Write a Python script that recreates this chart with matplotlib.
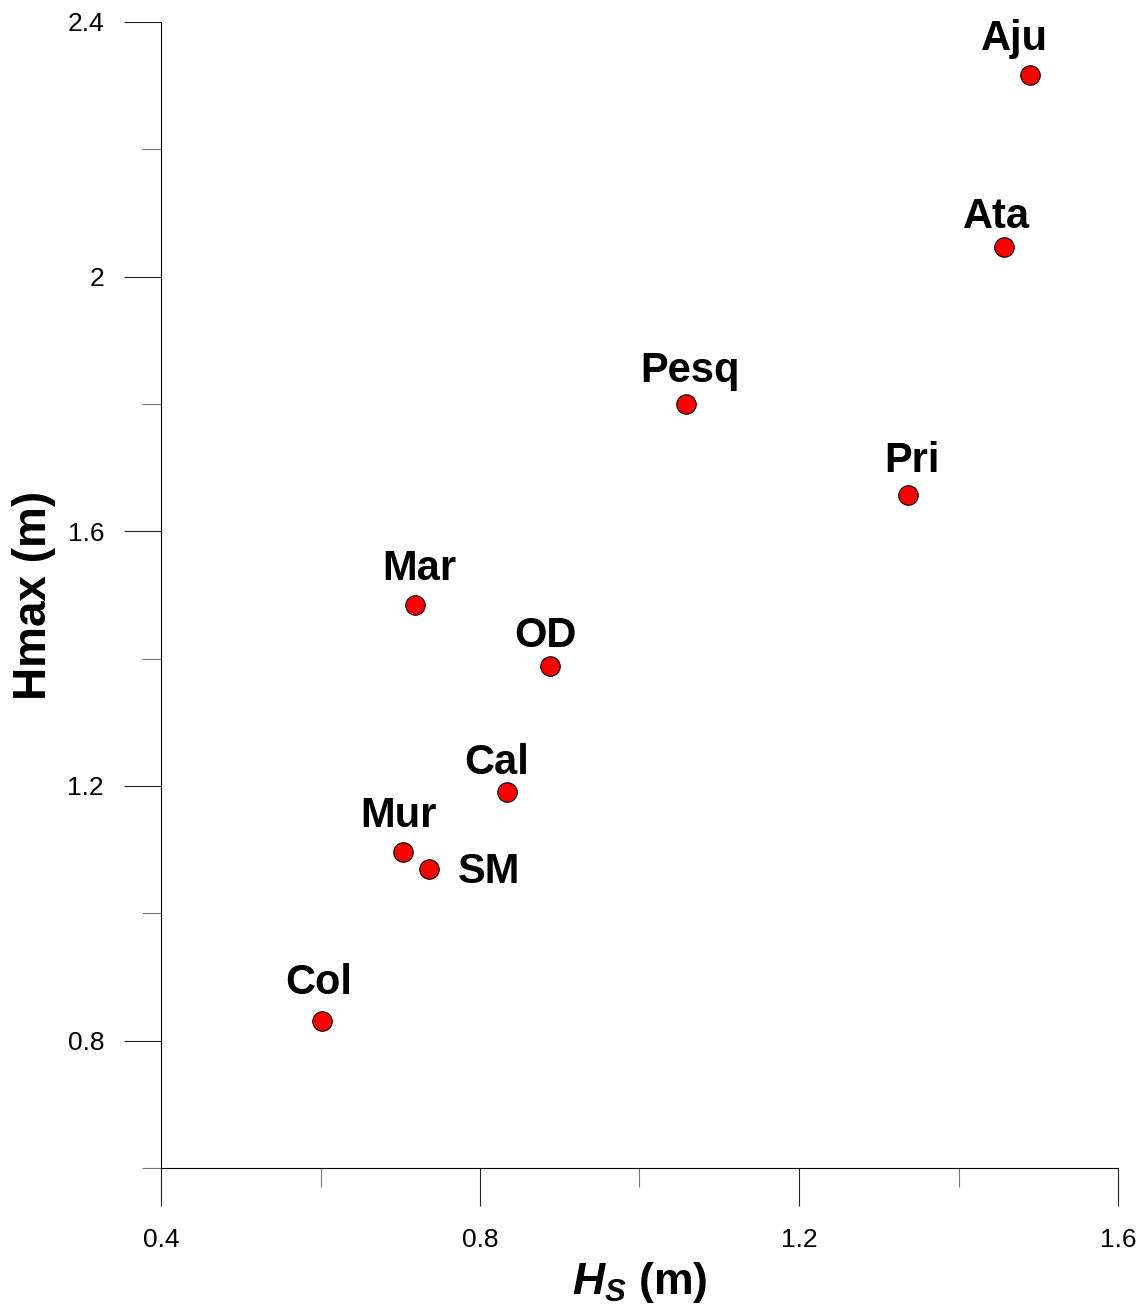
import matplotlib.pyplot as plt
from matplotlib.ticker import MultipleLocator

plt.rcParams['font.family'] = ['Liberation Sans', 'DejaVu Sans']
plt.rcParams['mathtext.fontset'] = 'custom'
plt.rcParams['mathtext.it'] = 'Liberation Sans:italic:bold'
plt.rcParams['mathtext.rm'] = 'Liberation Sans:bold'

# data
sites = ['Aju', 'Ata', 'Pesq', 'Pri', 'Mar', 'OD', 'Cal', 'Mur', 'SM', 'Col']
hs = [1.490, 1.457, 1.058, 1.337, 0.718, 0.888, 0.834, 0.703, 0.736, 0.602]
hmax = [2.317, 2.046, 1.800, 1.657, 1.485, 1.388, 1.191, 1.097, 1.070, 0.831]

# label offsets in pixels (dx, dy to baseline)
offsets = [(-16, 25), (-7, 19), (4, 22), (4, 23), (5, 25),
           (-5, 19), (-10, 18), (-4, 25), (60, -14), (-3, 27)]

fig = plt.figure(figsize=(11.46, 13.11), dpi=100)
ax = fig.add_axes([161 / 1146, 1 - 1168 / 1311, (1118 - 161) / 1146, (1168 - 22) / 1311])

ax.plot(hs, hmax, 'o', color='red', markeredgecolor='black',
        markersize=14, markeredgewidth=0.8, linestyle='none', clip_on=False)

for name, x, y, (dx, dy) in zip(sites, hs, hmax, offsets):
    ax.annotate(name, (x, y), xytext=(dx, dy), textcoords='offset pixels',
                ha='center', va='baseline', fontsize=30, fontweight='bold')

ax.set_xlim(0.4, 1.6)
ax.set_ylim(0.6, 2.4)
ax.xaxis.set_major_locator(MultipleLocator(0.4))
ax.xaxis.set_minor_locator(MultipleLocator(0.2))
ax.yaxis.set_major_locator(MultipleLocator(0.4))
ax.yaxis.set_minor_locator(MultipleLocator(0.2))
ax.xaxis.set_major_formatter(lambda v, p: f'{v:g}')
ax.yaxis.set_major_formatter(lambda v, p: f'{v:g}')

for s in ['top', 'right']:
    ax.spines[s].set_visible(False)
for s in ['left', 'bottom']:
    ax.spines[s].set_linewidth(0.8)

ax.tick_params(which='major', direction='out', length=27, width=0.8,
               color='#222222', labelsize=19)
ax.tick_params(which='minor', direction='out', length=13.5, width=0.8,
               color='#777777')
ax.tick_params(axis='y', which='major', pad=14)
ax.tick_params(axis='x', which='major', pad=16)

ax.set_ylabel('Hmax (m)', fontsize=33, fontweight='bold', va='center')
ax.yaxis.set_label_coords(-(161 - 34) / 957, 0.5)
ax.set_xlabel(r'$H_S$ (m)', fontsize=32, fontweight='bold', labelpad=6)

fig.savefig('out.png', dpi=100)
